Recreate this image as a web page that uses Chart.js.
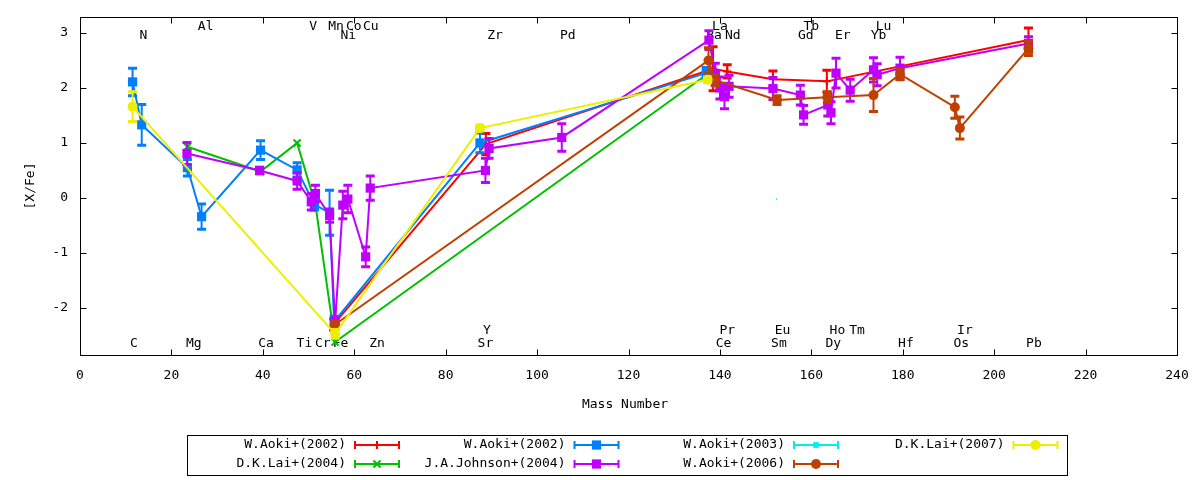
<!DOCTYPE html>
<html>
<head>
<meta charset="utf-8">
<script src="https://cdn.jsdelivr.net/npm/chart.js@4.4.0/dist/chart.umd.min.js"></script>
<style>
html, body { margin: 0; padding: 0; background: #fff; }
</style>
</head>
<body>
<canvas id="abund" width="1200" height="480"></canvas>
<script>
// ---------- abundance data [X/Fe] vs mass number ----------

// W.Aoki+(2002) (red)
var aoki02aX = [55.5, 88.8, 138.5, 141.6, 151.6, 163.4, 207.5];
var aoki02aY = [-2.3, 0.98, 2.35, 2.3, 2.16, 2.12, 2.87];
var aoki02aE = [0.1, 0.19, 0.4, 0.12, 0.15, 0.2, 0.22];

// D.K.Lai+(2004) (green)
var lai04X = [23.5, 39.5, 47.5, 51.5, 55.8, 137.2];
var lai04Y = [0.93, 0.48, 1.0, -0.12, -2.62, 2.25];
var lai04E = [0, 0, 0, 0, 0, 0];

// W.Aoki+(2002) (blue)
var aoki02bX = [11.5, 13.5, 23.5, 26.6, 39.5, 47.5, 51.3, 54.6, 55.6, 87.5, 137];
var aoki02bY = [2.11, 1.33, 0.55, -0.34, 0.87, 0.51, -0.12, -0.27, -2.25, 1.0, 2.27];
var aoki02bE = [0.25, 0.37, 0.15, 0.23, 0.17, 0.13, 0.1, 0.41, 0.1, 0.18, 0.1];

// J.A.Johnson+(2004) (purple)
var johnson04X = [23.4, 39.3, 47.5, 50.6, 51.5, 54.6, 55.8, 57.5, 58.6, 62.5, 63.5,
                  88.7, 89.5, 105.4, 137.6, 139, 140, 141, 142, 151.6, 157.6, 158.3,
                  163.6, 164.3, 165.4, 168.5, 173.6, 174.4, 179.4, 207.5];
var johnson04Y = [0.81, 0.5, 0.31, -0.07, 0.08, -0.32, -2.28, -0.13, -0.02, -1.07, 0.18,
                  0.5, 0.9, 1.1, 2.87, 2.25, 2.0, 1.84, 2.03, 1.99, 1.87, 1.51,
                  1.69, 1.55, 2.27, 1.96, 2.33, 2.24, 2.36, 2.81];
var johnson04E = [0.2, 0.06, 0.15, 0.15, 0.15, 0.12, 0.1, 0.25, 0.25, 0.18, 0.22,
                  0.22, 0.18, 0.25, 0.17, 0.2, 0.2, 0.22, 0.2, 0.2, 0.18, 0.17,
                  0.2, 0.2, 0.27, 0.2, 0.22, 0.2, 0.2, 0.12];

// W.Aoki+(2003) (cyan)
var aoki03X = [152.4];
var aoki03Y = [-0.02];
var aoki03E = [0];

// W.Aoki+(2006) (brown)
var aoki06X = [55.8, 137.5, 139, 152.5, 163.5, 173.6, 179.4, 191.4, 192.5, 207.5];
var aoki06Y = [-2.3, 2.5, 2.14, 1.78, 1.83, 1.87, 2.25, 1.65, 1.27, 2.72];
var aoki06E = [0.05, 0.23, 0.1, 0.08, 0.1, 0.3, 0.1, 0.2, 0.2, 0.13];

// D.K.Lai+(2007) (yellow)
var lai07X = [11.5, 55.8, 87.5, 137.3];
var lai07Y = [1.66, -2.47, 1.27, 2.15];
var lai07E = [0.27, 0.08, 0.05, 0.05];

// element labels: name, mass position, row level
var elemNames = ["C","Mg","Ca","Ti","Cr","Fe","Zn","Sr","Ce","Sm","Dy","Hf","Os","Pb",
                 "Y","Pr","Eu","Ho","Tm","Ir",
                 "N","Ni","Zr","Pd","Ba","Nd","Gd","Er","Yb",
                 "Al","V","Mn","Co","Cu","La","Tb","Lu"];
var elemMass  = [11.8, 24.9, 40.7, 49.1, 53.1, 57.0, 65.0, 88.7, 140.8, 152.9, 164.8, 180.7, 192.8, 208.7,
                 89.0, 141.6, 153.7, 165.7, 170.0, 193.6,
                 13.9, 58.7, 90.8, 106.7, 138.7, 142.8, 158.8, 166.9, 174.7,
                 27.5, 51.0, 56.0, 59.9, 63.6, 140.0, 160.0, 175.8];
var elemLevel = [-2.65, -2.65, -2.65, -2.65, -2.65, -2.65, -2.65, -2.65, -2.65, -2.65, -2.65, -2.65, -2.65, -2.65,
                 -2.41, -2.41, -2.41, -2.41, -2.41, -2.41,
                 2.95, 2.95, 2.95, 2.95, 2.95, 2.95, 2.95, 2.95, 2.95,
                 3.12, 3.12, 3.12, 3.12, 3.12, 3.12, 3.12, 3.12];

var xTicks = [0, 20, 40, 60, 80, 100, 120, 140, 160, 180, 200, 220, 240];
var yTicks = [-2, -1, 0, 1, 2, 3];

var FONT = "13px 'DejaVu Sans Mono'";

function pts(xs, ys) {
	return xs.map(function(x, i) { return { x: x, y: ys[i] }; });
}

function series(label, color, xs, ys, es, style, radius) {
	return {
		label: label,
		data: pts(xs, ys),
		errs: es,
		showLine: true,
		borderColor: color,
		backgroundColor: color,
		borderWidth: 2,
		pointStyle: style,
		pointRadius: radius,
		pointHoverRadius: radius,
		pointBorderWidth: (style == 'cross' || style == 'crossRot') ? 2 : 0,
		pointBackgroundColor: color,
		pointBorderColor: color
	};
}

// gnuplot order: later series on top
var seriesList = [
	series('W.Aoki+(2002)', '#ff0000', aoki02aX, aoki02aY, aoki02aE, 'cross', 4),
	series('D.K.Lai+(2004)', '#00c000', lai04X, lai04Y, lai04E, 'crossRot', 5),
	series('W.Aoki+(2002)', '#0080ff', aoki02bX, aoki02bY, aoki02bE, 'rect', 6.5),
	series('J.A.Johnson+(2004)', '#c000ff', johnson04X, johnson04Y, johnson04E, 'rect', 6.5),
	series('W.Aoki+(2003)', '#00eeee', aoki03X, aoki03Y, aoki03E, 'rect', 1),
	series('W.Aoki+(2006)', '#c04000', aoki06X, aoki06Y, aoki06E, 'circle', 5),
	series('D.K.Lai+(2007)', '#eeee00', lai07X, lai07Y, lai07E, 'circle', 5)
];
seriesList.forEach(function(d, i) { d.order = seriesList.length - i; });

// error bars, drawn right after each dataset
var errorBars = {
	id: 'errorBars',
	afterDatasetDraw: function(chart, args) {
		var ds = chart.data.datasets[args.index];
		if (!ds.errs) return;
		var ctx = chart.ctx, xs = chart.scales.x, ys = chart.scales.y, ca = chart.chartArea;
		ctx.save();
		ctx.beginPath();
		ctx.rect(ca.left, ca.top, ca.right - ca.left, ca.bottom - ca.top);
		ctx.clip();
		ctx.strokeStyle = ds.borderColor;
		ds.data.forEach(function(p, i) {
			var e = ds.errs[i];
			if (!e) return;
			var px = xs.getPixelForValue(p.x);
			var y1 = ys.getPixelForValue(p.y - e), y2 = ys.getPixelForValue(p.y + e);
			ctx.lineWidth = 2;
			ctx.beginPath();
			ctx.moveTo(px, y1); ctx.lineTo(px, y2);
			ctx.stroke();
			ctx.lineWidth = 3;
			ctx.beginPath();
			ctx.moveTo(px - 4.5, y1); ctx.lineTo(px + 4.5, y1);
			ctx.moveTo(px - 4.5, y2); ctx.lineTo(px + 4.5, y2);
			ctx.stroke();
		});
		ctx.restore();
	}
};

// element names under the data
var elemLabels = {
	id: 'elemLabels',
	beforeDatasetsDraw: function(chart) {
		var ctx = chart.ctx, xs = chart.scales.x, ys = chart.scales.y;
		ctx.save();
		ctx.font = FONT;
		ctx.fillStyle = '#000';
		ctx.textAlign = 'center';
		ctx.textBaseline = 'middle';
		elemNames.forEach(function(n, i) {
			ctx.fillText(n, xs.getPixelForValue(elemMass[i]), ys.getPixelForValue(elemLevel[i]));
		});
		ctx.restore();
	}
};

// border, inward ticks, axis titles, legend box
var frame = {
	id: 'frame',
	afterDraw: function(chart) {
		var ctx = chart.ctx, ca = chart.chartArea, xs = chart.scales.x, ys = chart.scales.y;
		var L = Math.round(ca.left) + 0.5, R = Math.round(ca.right) + 0.5;
		var T = Math.round(ca.top) + 0.5, B = Math.round(ca.bottom) + 0.5;
		ctx.save();
		ctx.strokeStyle = '#000';
		ctx.lineWidth = 1;
		ctx.strokeRect(L, T, R - L, B - T);
		ctx.beginPath();
		xTicks.forEach(function(v) {
			var px = Math.round(xs.getPixelForValue(v)) + 0.5;
			ctx.moveTo(px, B); ctx.lineTo(px, B - 6);
			ctx.moveTo(px, T); ctx.lineTo(px, T + 6);
		});
		yTicks.forEach(function(v) {
			var py = Math.round(ys.getPixelForValue(v)) + 0.5;
			ctx.moveTo(L, py); ctx.lineTo(L + 6, py);
			ctx.moveTo(R, py); ctx.lineTo(R - 6, py);
		});
		ctx.stroke();

		ctx.font = FONT;
		ctx.fillStyle = '#000';
		ctx.textAlign = 'center';
		ctx.textBaseline = 'middle';
		ctx.fillText('Mass Number', 625, 405);
		ctx.save();
		ctx.translate(31, 186);
		ctx.rotate(-Math.PI / 2);
		ctx.fillText('[X/Fe]', 0, 0);
		ctx.restore();

		// key
		ctx.strokeRect(187.5, 435.5, 880, 40);
		var legendOrder = [0, 2, 4, 6, 1, 3, 5];
		legendOrder.forEach(function(di, k) {
			var ds = chart.data.datasets[di];
			var col = k % 4, row = Math.floor(k / 4);
			var tx = 346 + col * 219.5, ty = 445 + row * 19;
			ctx.fillStyle = '#000';
			ctx.textAlign = 'right';
			ctx.fillText(ds.label, tx, ty);
			var s0 = tx + 9, s1 = tx + 53;
			ctx.strokeStyle = ds.borderColor;
			ctx.lineWidth = 2;
			ctx.beginPath();
			ctx.moveTo(s0, ty); ctx.lineTo(s1, ty);
			ctx.moveTo(s0, ty - 4); ctx.lineTo(s0, ty + 4);
			ctx.moveTo(s1, ty - 4); ctx.lineTo(s1, ty + 4);
			ctx.stroke();
			ctx.fillStyle = ds.borderColor;
			Chart.helpers.drawPoint(ctx, {
				pointStyle: ds.pointStyle,
				radius: Math.max(ds.pointRadius, 4),
				rotation: 0,
				borderWidth: ds.pointBorderWidth
			}, (s0 + s1) / 2, ty);
		});
		ctx.restore();
	}
};

var ctx = document.getElementById('abund').getContext('2d');
var abundChart = new Chart(ctx, {
	type: 'scatter',
	data: { datasets: seriesList },
	options: {
		responsive: false,
		animation: false,
		devicePixelRatio: 1,
		layout: { padding: { left: 0, right: 23, top: 17, bottom: 0 } },
		plugins: {
			legend: { display: false },
			tooltip: { enabled: false }
		},
		scales: {
			x: {
				type: 'linear',
				min: 0, max: 240,
				grid: { display: false },
				border: { display: false },
				ticks: { stepSize: 20, padding: 5, color: '#000', font: { family: 'DejaVu Sans Mono', size: 13 } },
				afterBuildTicks: function(s) { s.ticks = xTicks.map(function(v) { return { value: v }; }); },
				afterFit: function(s) { s.height = 125; s.paddingLeft = 0; s.paddingRight = 0; }
			},
			y: {
				type: 'linear',
				min: -2.855, max: 3.29,
				grid: { display: false },
				border: { display: false },
				ticks: { padding: 4, color: '#000', font: { family: 'DejaVu Sans Mono', size: 13 } },
				afterBuildTicks: function(s) { s.ticks = yTicks.map(function(v) { return { value: v }; }); },
				afterFit: function(s) { s.width = 80; s.paddingTop = 0; s.paddingBottom = 0; }
			}
		}
	},
	plugins: [elemLabels, errorBars, frame]
});
</script>
</body>
</html>
